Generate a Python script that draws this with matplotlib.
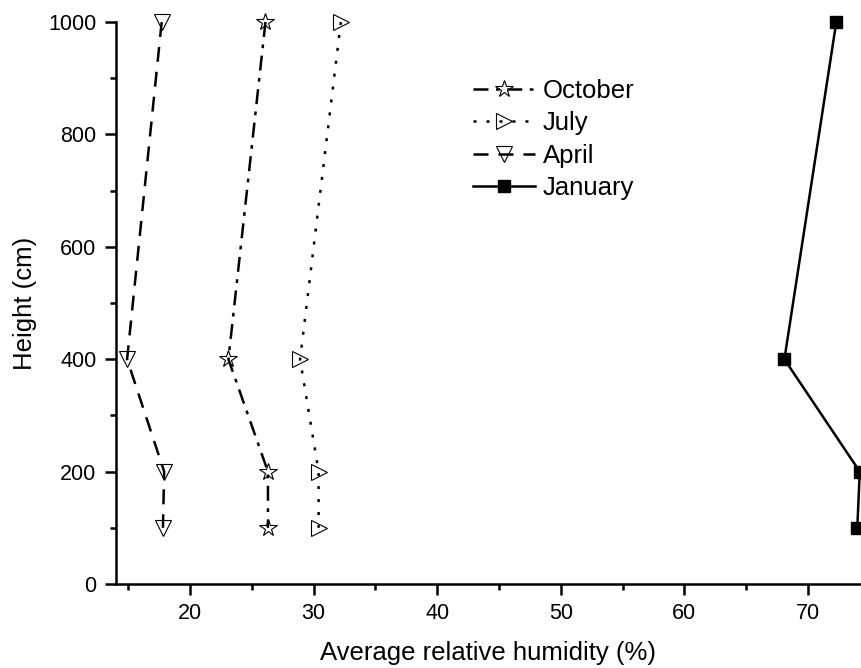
#profile of relative humidity with height, four months
import numpy as np
import matplotlib.pyplot as plt
import matplotlib as mpl

mpl.rcParams['font.family'] = ['Liberation Sans', 'DejaVu Sans']

heights = [1000, 400, 200, 100]
october = [26.1, 23.1, 26.3, 26.3]
july = [32.2, 28.9, 30.4, 30.4]
april = [17.7, 14.9, 17.9, 17.8]
january = [72.3, 68.1, 74.2, 74.0]

fig = plt.figure(figsize=(8.61, 6.68), dpi=100)
ax = fig.add_axes([0.1347, 0.1257, 0.8653, 0.8413])

lw = 1.8
ax.plot(october, heights, color='black', lw=lw, dashes=(6, 3, 1.5, 3),
        marker='*', ms=13, mfc='none', mec='black', mew=0.8,
        label='October', clip_on=False)
ax.plot(july, heights, color='black', lw=lw, dashes=(1.2, 4),
        marker='>', ms=11, mfc='none', mec='black', mew=0.8,
        label='July', clip_on=False)
ax.plot(april, heights, color='black', lw=lw, dashes=(6, 4),
        marker='v', ms=12, mfc='none', mec='black', mew=0.8,
        label='April', clip_on=False)
ax.plot(january, heights, color='black', lw=lw, ls='-',
        marker='s', ms=8, mfc='black', mec='black',
        label='January', clip_on=False)

ax.set_xlim(14.0, 74.3)
ax.set_ylim(0, 1000)
ax.set_xticks([20, 30, 40, 50, 60, 70])
ax.set_xticks(np.arange(15, 75, 10), minor=True)
ax.set_yticks([0, 200, 400, 600, 800, 1000])
ax.set_yticks(np.arange(100, 1000, 200), minor=True)

for s in ['top', 'right']:
    ax.spines[s].set_visible(False)
for s in ['left', 'bottom']:
    ax.spines[s].set_linewidth(1.8)

ax.tick_params(which='major', direction='out', length=8, width=1.8, labelsize=15.5, pad=6)
ax.tick_params(which='minor', direction='out', length=4.5, width=1.8)

ax.set_xlabel('Average relative humidity (%)', fontsize=18.5, labelpad=12)
ax.set_ylabel('Height (cm)', fontsize=18.5, labelpad=8)

ax.legend(loc='upper left', bbox_to_anchor=(0.535, 0.901), bbox_transform=fig.transFigure,
          frameon=False, fontsize=18.5, handlelength=2.4, handletextpad=0.3,
          labelspacing=0.33, borderpad=0)

fig.savefig('out.png', dpi=100)
